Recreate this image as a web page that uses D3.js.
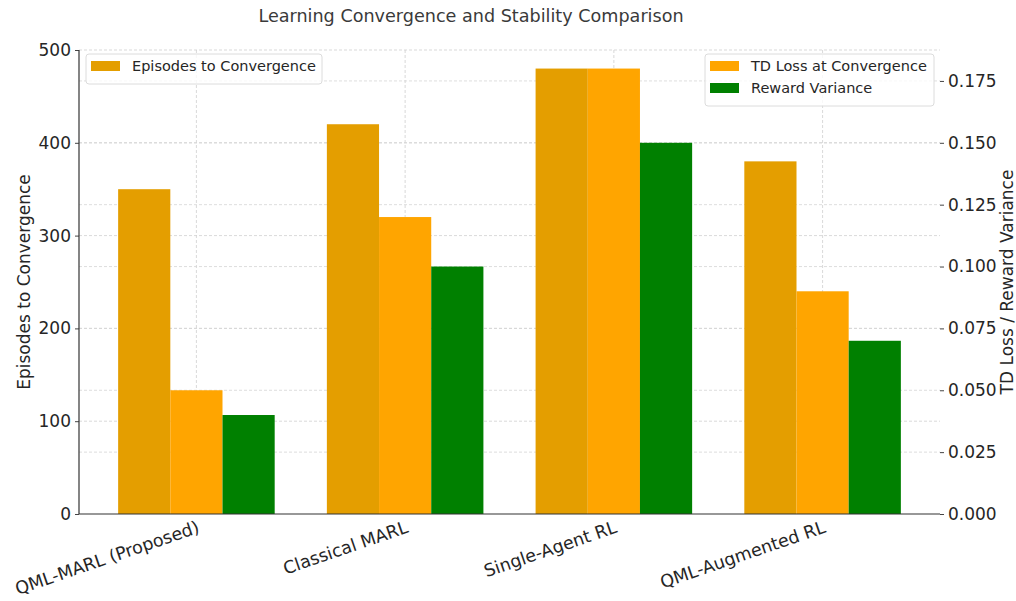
<!DOCTYPE html>
<html><head><meta charset="utf-8">
<script src="https://cdn.jsdelivr.net/npm/d3@7"></script>
<style>body{margin:0;background:#fff;} text{font-family:"DejaVu Sans",sans-serif;fill:#262626;}</style>
</head><body>
<svg id="c" width="1016" height="601"></svg>
<script>
const categories = ["QML-MARL (Proposed)", "Classical MARL", "Single-Agent RL", "QML-Augmented RL"];
const episodes = [350, 420, 480, 380];
const tdLoss = [0.05, 0.12, 0.18, 0.09];
const rewardVar = [0.04, 0.10, 0.15, 0.07];
const leftTicks = [0, 100, 200, 300, 400, 500];
const rightTicks = [0, 0.025, 0.05, 0.075, 0.1, 0.125, 0.15, 0.175];

const colEp = "#e49e00", colTd = "#ffa500", colRv = "#008000";
const L = 79, R = 940, T = 50, B = 514;
const svg = d3.select("#c");

const x = d3.scaleLinear().domain([-0.5625, 3.5625]).range([L, R]);
const yL = d3.scaleLinear().domain([0, 500]).range([B, T]);
const yR = d3.scaleLinear().domain([0, 0.1875]).range([B, T]);
const w = 0.25;

// grid
const g = svg.append("g");
g.selectAll(".vg").data(categories).join("line")
  .attr("x1", (d,i)=>x(i)).attr("x2", (d,i)=>x(i)).attr("y1", T).attr("y2", B)
  .attr("stroke", "#cfcfcf").attr("stroke-dasharray", "3,2").attr("stroke-width", 0.8);
g.selectAll(".hg").data(leftTicks.slice(1)).join("line")
  .attr("x1", L).attr("x2", R).attr("y1", d=>yL(d)).attr("y2", d=>yL(d))
  .attr("stroke", "#cfcfcf").attr("stroke-dasharray", "3,2").attr("stroke-width", 0.8);
g.selectAll(".hg2").data(rightTicks.slice(1)).join("line")
  .attr("x1", L).attr("x2", R).attr("y1", d=>yR(d)).attr("y2", d=>yR(d))
  .attr("stroke", "#d6d6d6").attr("stroke-dasharray", "3,2").attr("stroke-width", 0.8);

// bars
svg.append("g").selectAll("rect").data(episodes).join("rect")
  .attr("x", (d,i)=>x(i - w - w/2)).attr("width", x(w)-x(0))
  .attr("y", d=>yL(d)).attr("height", d=>B - yL(d)).attr("fill", colEp);
svg.append("g").selectAll("rect").data(tdLoss).join("rect")
  .attr("x", (d,i)=>x(i - w/2)).attr("width", x(w)-x(0))
  .attr("y", d=>yR(d)).attr("height", d=>B - yR(d)).attr("fill", colTd);
svg.append("g").selectAll("rect").data(rewardVar).join("rect")
  .attr("x", (d,i)=>x(i + w/2)).attr("width", x(w)-x(0))
  .attr("y", d=>yR(d)).attr("height", d=>B - yR(d)).attr("fill", colRv);

// axes
const axL = svg.append("g").attr("transform", `translate(${L},0)`)
  .call(d3.axisLeft(yL).tickValues(leftTicks).tickFormat(d3.format("d")).tickSize(4).tickPadding(4));
const axR = svg.append("g").attr("transform", `translate(${R},0)`)
  .call(d3.axisRight(yR).tickValues(rightTicks).tickFormat(d3.format(".3f")).tickSize(4).tickPadding(4));
[axL, axR].forEach(a => {
  a.select(".domain").remove();
  a.selectAll("text").style("font-size", "17px").attr("fill", "#262626");
  a.selectAll("line").attr("stroke", "#444");
});
svg.append("line").attr("x1", L).attr("x2", L).attr("y1", T).attr("y2", B).attr("stroke", "#333").attr("stroke-width", 1.2);
svg.append("line").attr("x1", L).attr("x2", R).attr("y1", B).attr("y2", B).attr("stroke", "#333").attr("stroke-width", 1.2);

// x labels
svg.append("g").selectAll("text").data(categories).join("text")
  .attr("transform", (d,i)=>`translate(${x(i)},${B+6}) rotate(-19)`)
  .attr("text-anchor", "end").attr("dominant-baseline", "hanging")
  .style("font-size", "17.5px").text(d=>d);

// axis titles
svg.append("text").attr("transform", `translate(30,${(T+B)/2}) rotate(-90)`)
  .attr("text-anchor", "middle").style("font-size", "17px").text("Episodes to Convergence");
svg.append("text").attr("transform", `translate(1013,${(T+B)/2}) rotate(-90)`)
  .attr("text-anchor", "middle").style("font-size", "17px").text("TD Loss / Reward Variance");

// title
svg.append("text").attr("x", 471).attr("y", 22).attr("text-anchor", "middle")
  .style("font-size", "17.6px").style("fill", "#3a3a3a").text("Learning Convergence and Stability Comparison");

// legends
function legend(x0, y0, items, width) {
  const lg = svg.append("g").attr("transform", `translate(${x0},${y0})`);
  lg.append("rect").attr("width", width).attr("height", 8 + items.length*22)
    .attr("rx", 3).attr("fill", "#fff").attr("fill-opacity", 0.8).attr("stroke", "#dcdcdc");
  items.forEach((it, i) => {
    lg.append("rect").attr("x", 5).attr("y", 7 + i*22).attr("width", 29).attr("height", 10).attr("fill", it[1]);
    lg.append("text").attr("x", 46).attr("y", 12 + i*22).attr("dominant-baseline", "central")
      .style("font-size", "14.5px").text(it[0]);
  });
}
legend(86, 54, [["Episodes to Convergence", colEp]], 236);
legend(705, 54, [["TD Loss at Convergence", colTd], ["Reward Variance", colRv]], 229);
</script>
</body></html>
